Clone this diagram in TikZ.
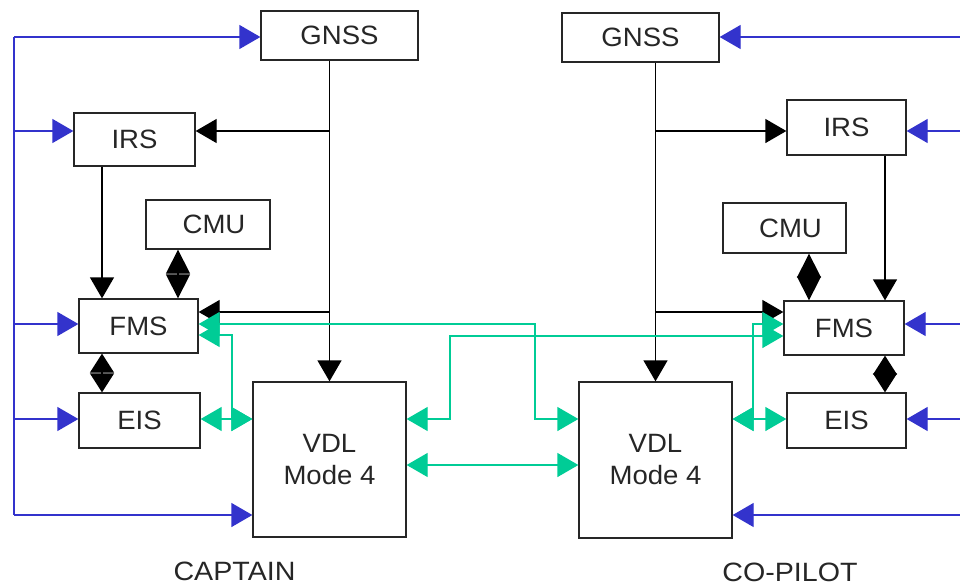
\documentclass[tikz,border=0pt]{standalone}
\usepackage{fontspec}
\setmainfont{Liberation Sans}[FakeStretch=1.04]
\newfontfamily\labfont{Liberation Sans}[FakeStretch=1.08]
\usetikzlibrary{arrows.meta}
\definecolor{busblue}{RGB}{51,51,204}
\definecolor{busgreen}{RGB}{0,204,150}
\begin{document}
\begin{tikzpicture}[x=1pt,y=-1pt,
  box/.style={draw=black!85, line width=1.3pt, inner sep=0pt, align=center,
    font=\fontsize{26.5}{32}\selectfont, text=black!85},
  lab/.style={inner sep=0pt, font=\labfont\fontsize{26.5}{32}\selectfont, text=black!85},
  blk/.style={draw=black, line width=1.3pt},
  blu/.style={draw=busblue, line width=1.3pt},
  grn/.style={draw=busgreen, line width=1.3pt},
  one/.style={-{Triangle[length=21pt,width=24pt]}},
  both/.style={{Triangle[length=21pt,width=24pt]}-{Triangle[length=21pt,width=24pt]}},
  dia/.style={{Triangle[length=24pt,width=24pt]}-{Triangle[length=24pt,width=24pt]}},
  dia2/.style={{Triangle[length=19pt,width=24pt]}-{Triangle[length=19pt,width=24pt]}}]
\useasboundingbox (0,0) rectangle (960,586);

% ---------- boxes: captain ----------
\node[box, minimum width=157pt, minimum height=49pt] (gnssL) at (339.5,35.5) {GNSS};
\node[box, minimum width=121pt, minimum height=53pt] (irsL) at (134.5,139.5) {IRS};
\node[box, minimum width=124pt, minimum height=49pt] (cmuL) at (208,224.5) {\hspace*{12pt}CMU};
\node[box, minimum width=119pt, minimum height=54pt] (fmsL) at (138.5,326) {FMS};
\node[box, minimum width=121pt, minimum height=55pt] (eisL) at (139.5,420.5) {EIS};
\node[box, minimum width=153pt, minimum height=155pt] (vdlL) at (329.5,459.5) {VDL\\Mode 4};
% ---------- boxes: co-pilot ----------
\node[box, minimum width=157pt, minimum height=49pt] (gnssR) at (640.5,37.5) {GNSS};
\node[box, minimum width=119pt, minimum height=55pt] (irsR) at (846.5,127.5) {IRS};
\node[box, minimum width=123pt, minimum height=50pt] (cmuR) at (784.5,228) {\hspace*{12pt}CMU};
\node[box, minimum width=120pt, minimum height=54pt] (fmsR) at (844,328) {FMS};
\node[box, minimum width=119pt, minimum height=55pt] (eisR) at (846.5,420.5) {EIS};
\node[box, minimum width=153pt, minimum height=156pt] (vdlR) at (655.5,460) {VDL\\Mode 4};

\node[lab] (capt) at (234.5,571) {CAPTAIN};
\node[lab] (copi) at (790,572) {CO-PILOT};

% ---------- row / column references ----------
\coordinate (r37) at (0,37);
\coordinate (r131) at (0,131);
\coordinate (r312) at (0,312);
\coordinate (r324) at (0,324);
\coordinate (r335) at (0,335);
\coordinate (r336) at (0,336);
\coordinate (r419) at (0,419);
\coordinate (r465) at (0,465);
\coordinate (r515) at (0,515);
\coordinate (busL) at (14,37);
\coordinate (busLb) at (14,515);
\coordinate (edgeR) at (960,37);
\coordinate (cL1) at (102,0);
\coordinate (cL2) at (178,0);
\coordinate (cR1) at (885,0);
\coordinate (cR2) at (809,0);

% ---------- blue feeds ----------
\draw[blu] (busL) -- (busLb);
\draw[blu,one] (busL) -- (gnssL.west |- r37);
\draw[blu,one] (busL |- r131) -- (irsL.west |- r131);
\draw[blu,one] (busL |- r324) -- (fmsL.west |- r324);
\draw[blu,one] (busL |- r419) -- (eisL.west |- r419);
\draw[blu,one] (busLb) -- (vdlL.west |- r515);

\draw[blu,one] (edgeR) -- (gnssR.east |- r37);
\draw[blu,one] (edgeR |- r131) -- (irsR.east |- r131);
\draw[blu,one] (edgeR |- r324) -- (fmsR.east |- r324);
\draw[blu,one] (edgeR |- r419) -- (eisR.east |- r419);
\draw[blu,one] (edgeR |- r515) -- (vdlR.east |- r515);

% ---------- black: captain ----------
\draw[blk,one] (vdlL.north |- gnssL.south) -- (vdlL.north);
\draw[blk,one] (vdlL.north |- r131) -- (irsL.east |- r131);
\draw[blk,one] (vdlL.north |- r312) -- (fmsL.east |- r312);
\draw[blk,one] (cL1 |- irsL.south) -- (cL1 |- fmsL.north);
\draw[blk,dia] (cL2 |- cmuL.south) -- (cL2 |- fmsL.north);
\draw[blk,dia2] (cL1 |- fmsL.south) -- (cL1 |- eisL.north);

% ---------- black: co-pilot ----------
\draw[blk,one] (vdlR.north |- gnssR.south) -- (vdlR.north);
\draw[blk,one] (vdlR.north |- r131) -- (irsR.west |- r131);
\draw[blk,one] (vdlR.north |- r312) -- (fmsR.west |- r312);
\draw[blk,one] (cR1 |- irsR.south) -- (cR1 |- fmsR.north);
\draw[blk,dia] (cR2 |- cmuR.south) -- (cR2 |- fmsR.north);
\draw[blk,dia2] (cR1 |- fmsR.south) -- (cR1 |- eisR.north);

% ---------- green data links ----------
\coordinate (g1a) at (535,324);
\coordinate (g1b) at (535,419);
\coordinate (g2a) at (232,335);
\coordinate (g2b) at (232,419);
\coordinate (g4a) at (450,419);
\coordinate (g4b) at (450,336);
\coordinate (g6a) at (753,324);
\coordinate (g6b) at (753,419);

\draw[grn,both] (fmsL.east |- r324) -- (g1a) -- (g1b) -- (vdlR.west |- r419);
\draw[grn,both] (fmsL.east |- r335) -- (g2a) -- (g2b) -- (vdlL.west |- r419);
\draw[grn,both] (eisL.east |- r419) -- (vdlL.west |- r419);
\draw[grn,both] (vdlL.east |- r419) -- (g4a) -- (g4b) -- (fmsR.west |- r336);
\draw[grn,both] (vdlL.east |- r465) -- (vdlR.west |- r465);
\draw[grn,both] (fmsR.west |- r324) -- (g6a) -- (g6b) -- (vdlR.east |- r419);
\draw[grn,both] (vdlR.east |- r419) -- (eisR.west |- r419);
\end{tikzpicture}
\end{document}
